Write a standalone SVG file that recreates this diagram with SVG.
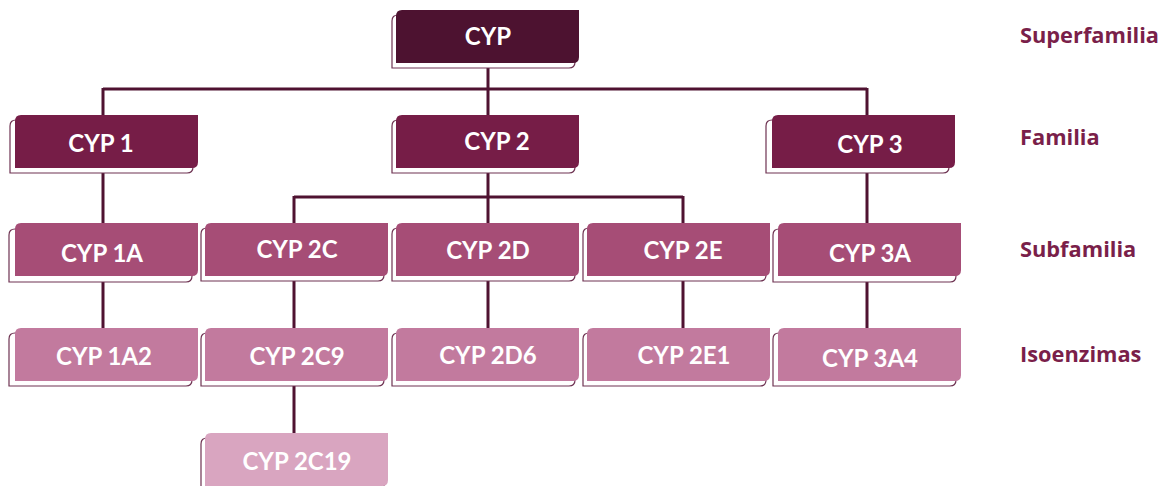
<svg xmlns="http://www.w3.org/2000/svg" width="1167" height="486" viewBox="0 0 1167 486">
<defs>
<style>
.bk{fill:#ffffff;stroke:#6e3352;stroke-width:1.2}
.l1{fill:#4d1230}
.l2{fill:#761d47}
.l3{fill:#a64d76}
.l4{fill:#c27a9e}
.l5{fill:#d9a5c0}
.t{font-family:Lato,"Liberation Sans",sans-serif;font-weight:700;font-size:24px;fill:#ffffff;text-anchor:middle}
.lab{font-family:"Open Sans","Liberation Sans",sans-serif;font-weight:700;font-size:21.8px;fill:#7a1f4a}
.c{stroke:#4f1231;stroke-width:3;fill:none}
</style>
<path id="box" d="M6 0 H183 V47 Q183 53 177 53 H0 V6 Q0 0 6 0 Z"/>
</defs>
<g id="connectors">
<path class="c" d="M488 63 V115 M103 89 H867 M103 88 V115 M867 88 V115"/>
<path class="c" d="M103 168 V223 M488 168 V223 M867 168 V223 M294 197 H683 M294 196 V223 M683 196 V223"/>
<path class="c" d="M103 276 V328 M294 276 V328 M488 276 V328 M683 276 V328 M867 276 V328 M294 381 V433"/>
</g>
<g id="cyp"><use href="#box" class="bk" x="392" y="15"/><use href="#box" class="l1" x="396" y="10"/><text class="t" x="488" y="45">CYP</text></g>
<g id="cyp1"><use href="#box" class="bk" x="10" y="120"/><use href="#box" class="l2" x="15" y="115"/><text class="t" x="101" y="152">CYP 1</text></g>
<g id="cyp2"><use href="#box" class="bk" x="392" y="120"/><use href="#box" class="l2" x="396" y="115"/><text class="t" x="497" y="150">CYP 2</text></g>
<g id="cyp3"><use href="#box" class="bk" x="766" y="120"/><use href="#box" class="l2" x="772" y="115"/><text class="t" x="870" y="153">CYP 3</text></g>
<g id="cyp1a"><use href="#box" class="bk" x="9" y="229"/><use href="#box" class="l3" x="15" y="223"/><text class="t" x="102" y="262">CYP 1A</text></g>
<g id="cyp2c"><use href="#box" class="bk" x="201" y="228"/><use href="#box" class="l3" x="205" y="223"/><text class="t" x="297" y="258">CYP 2C</text></g>
<g id="cyp2d"><use href="#box" class="bk" x="392" y="228"/><use href="#box" class="l3" x="396" y="223"/><text class="t" x="488" y="259">CYP 2D</text></g>
<g id="cyp2e"><use href="#box" class="bk" x="583" y="228"/><use href="#box" class="l3" x="587" y="223"/><text class="t" x="683" y="259">CYP 2E</text></g>
<g id="cyp3a"><use href="#box" class="bk" x="773" y="229"/><use href="#box" class="l3" x="778" y="223"/><text class="t" x="870" y="262">CYP 3A</text></g>
<g id="cyp1a2"><use href="#box" class="bk" x="9" y="333"/><use href="#box" class="l4" x="15" y="328"/><text class="t" x="104" y="365">CYP 1A2</text></g>
<g id="cyp2c9"><use href="#box" class="bk" x="201" y="333"/><use href="#box" class="l4" x="205" y="328"/><text class="t" x="297" y="365">CYP 2C9</text></g>
<g id="cyp2d6"><use href="#box" class="bk" x="392" y="333"/><use href="#box" class="l4" x="396" y="328"/><text class="t" x="488" y="364">CYP 2D6</text></g>
<g id="cyp2e1"><use href="#box" class="bk" x="583" y="333"/><use href="#box" class="l4" x="587" y="328"/><text class="t" x="684" y="364">CYP 2E1</text></g>
<g id="cyp3a4"><use href="#box" class="bk" x="773" y="333"/><use href="#box" class="l4" x="778" y="328"/><text class="t" x="870" y="367">CYP 3A4</text></g>
<g id="cyp2c19"><use href="#box" class="bk" x="201" y="438"/><use href="#box" class="l5" x="205" y="433"/><text class="t" x="297" y="470">CYP 2C19</text></g>
<g id="levels">
<text class="lab" x="1020" y="43">Superfamilia</text>
<text class="lab" x="1020" y="145">Familia</text>
<text class="lab" x="1020" y="257">Subfamilia</text>
<text class="lab" x="1020" y="362">Isoenzimas</text>
</g>
</svg>
